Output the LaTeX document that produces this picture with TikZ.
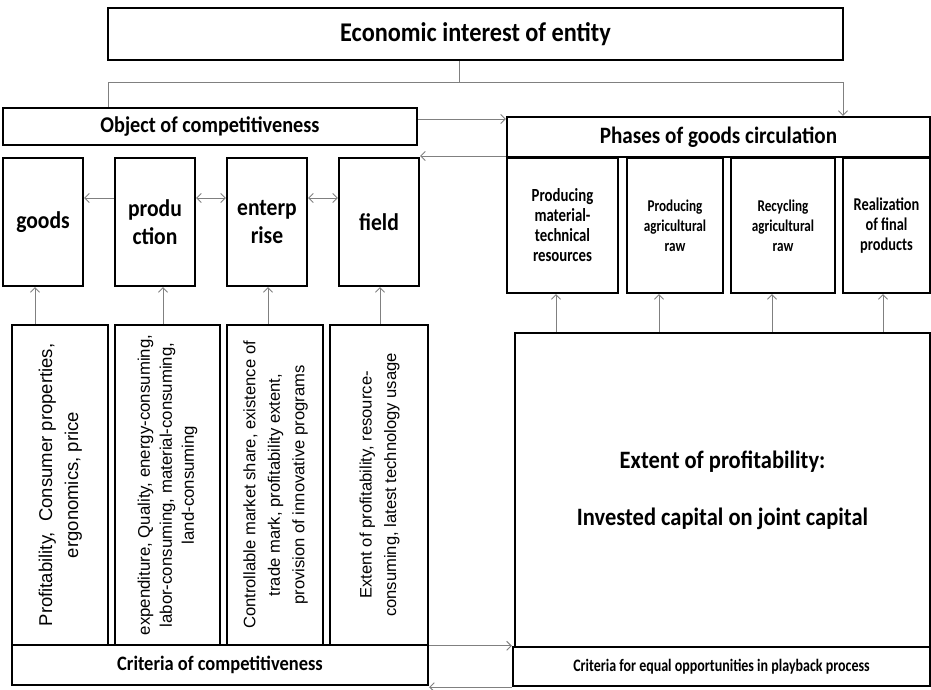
\documentclass[tikz,border=0pt]{standalone}
\usepackage{fontspec}
\setmainfont{Carlito}
\newfontfamily\hd[FakeStretch=0.9]{Carlito}
\newfontfamily\hdc[FakeStretch=0.8]{Carlito}
\newfontfamily\ar{Liberation Sans}
\usetikzlibrary{arrows.meta}
\begin{document}
\begin{tikzpicture}[x=1pt,y=-1pt,
  box/.style={draw=black,line width=2.4pt,inner sep=0pt,align=center,fill=white},
  conn/.style={draw=black!50,line width=0.9pt},
  tip/.style={-{Straight Barb[length=4.5pt,width=9pt,line width=0.9pt]}},
  tipboth/.style={{Straight Barb[length=4.5pt,width=9pt,line width=0.9pt]}-{Straight Barb[length=4.5pt,width=9pt,line width=0.9pt]}},
  head/.style={font={\hd\bfseries\fontsize{#1}{#1}\selectfont}},
  sub/.style={font={\hd\bfseries\fontsize{24}{28}\selectfont}},
  phase/.style={font={\hdc\bfseries\fontsize{#1}{20}\selectfont}},
  rot/.style={font={\ar\fontsize{#1}{24.5}\selectfont}}
]
\useasboundingbox (0,0) rectangle (931,690);

% top level
\node[box,head=27,minimum width=735pt,minimum height=52pt] (top) at (475.5,34) {Economic interest of entity};
\node[box,head=22.5,minimum width=414pt,minimum height=37pt] (obj) at (210,126.5) {Object of competitiveness};
\node[box,head=23.5,minimum width=423pt,minimum height=40pt] (phases) at (718.5,137) {Phases of goods circulation};

% objects
\node[box,sub,minimum width=80pt,minimum height=128pt] (goods) at (43,222) {goods};
\node[box,sub,minimum width=80pt,minimum height=128pt] (prod) at (155,222) {produ\\ction};
\node[box,sub,minimum width=80pt,minimum height=128pt] (ent) at (267,222) {enterp\\rise};
\node[box,sub,minimum width=80pt,minimum height=128pt] (field) at (379,222) {field};

% criteria boxes (rotated text)
\node[box,font={\ar\fontsize{18.5}{26}\selectfont},minimum width=96pt,minimum height=320pt] (b1) at (60,485)
  {\rotatebox{90}{\begin{tabular}{@{}c@{}}Profitability,\ \ Consumer properties,\\ ergonomics, price\end{tabular}}};
\node[box,font={\ar\fontsize{16.8}{22}\selectfont},minimum width=105pt,minimum height=320pt] (b2) at (167.5,485)
  {\rotatebox{90}{\begin{tabular}{@{}c@{}}expenditure, Quality, energy-consuming,\\ labor-consuming, material-consuming,\\ land-consuming\end{tabular}}};
\node[box,rot=16.6,minimum width=96pt,minimum height=320pt] (b3) at (275,485)
  {\rotatebox{90}{\begin{tabular}{@{}c@{}}Controllable market share, existence of\\ trade mark, profitability extent,\\ provision of innovative programs\end{tabular}}};
\node[box,rot=16.6,minimum width=98pt,minimum height=320pt] (b4) at (379,485)
  {\rotatebox{90}{\begin{tabular}{@{}c@{}}Extent of profitability, resource-\\ consuming, latest technology usage\end{tabular}}};
\node[box,head=20.5,minimum width=416pt,minimum height=40pt] (critL) at (220,665) {Criteria of competitiveness};

% phases
\node[box,phase=18.5,minimum width=111pt,minimum height=135pt] (r1) at (562.5,225.5) {Producing\\material-\\technical\\resources};
\node[box,phase=16.5,minimum width=96pt,minimum height=135pt] (r2) at (675,225.5) {Producing\\agricultural\\raw};
\node[box,phase=16.5,minimum width=104pt,minimum height=135pt] (r3) at (783,225.5) {Recycling\\agricultural\\raw};
\node[box,phase=18,minimum width=87pt,minimum height=135pt] (r4) at (886.5,225.5) {Realization\\of final\\products};

\node[box,font={\hd\bfseries\fontsize{25}{57}\selectfont},minimum width=415pt,minimum height=314pt] (big) at (722.5,490)
  {Extent of profitability:\\Invested capital on joint capital};
\node[box,font={\hdc\bfseries\fontsize{17.5}{17.5}\selectfont},minimum width=417pt,minimum height=39pt] (critR) at (721.5,666.5)
  {Criteria for equal opportunities in playback process};

% connectors
\coordinate (j) at (459,82);
\coordinate (cl) at (108,82);
\coordinate (cr) at (843,82);
\draw[conn] (j |- top.south) -- (j);
\draw[conn,tip] (cl |- obj.north) -- (cl) -- (cr) -- (cr |- phases.north);
\draw[conn,tip] ([yshift=7.5pt]obj.east) -- ([yshift=7.5pt]obj.east -| phases.west);
\draw[conn,tip] ([yshift=-19pt]phases.west) -- ([yshift=-19pt]phases.west -| field.east);

\draw[conn,tip] ([yshift=24pt]prod.west) -- ([yshift=24pt]goods.east);
\draw[conn,tipboth] ([yshift=24pt]prod.east) -- ([yshift=24pt]ent.west);
\draw[conn,tipboth] ([yshift=24pt]ent.east) -- ([yshift=24pt]field.west);

\draw[conn,tip] ([xshift=-25pt]b1.north) -- ([xshift=-25pt]b1.north |- goods.south);
\draw[conn,tip] ([xshift=-4.5pt]b2.north) -- ([xshift=-4.5pt]b2.north |- prod.south);
\draw[conn,tip] ([xshift=-7pt]b3.north) -- ([xshift=-7pt]b3.north |- ent.south);
\draw[conn,tip] ([xshift=1pt]b4.north) -- ([xshift=1pt]b4.north |- field.south);

\draw[conn,tip] ([xshift=-166.5pt]big.north) -- ([xshift=-166.5pt]big.north |- r1.south);
\draw[conn,tip] ([xshift=-63.5pt]big.north) -- ([xshift=-63.5pt]big.north |- r2.south);
\draw[conn,tip] ([xshift=49.5pt]big.north) -- ([xshift=49.5pt]big.north |- r3.south);
\draw[conn,tip] ([xshift=160.5pt]big.north) -- ([xshift=160.5pt]big.north |- r4.south);

\draw[conn,tip] (critL.east |- critR.north) -- (critR.north west);
\draw[conn,tip] (critR.south west) -- (critL.east |- critR.south);
\end{tikzpicture}
\end{document}
